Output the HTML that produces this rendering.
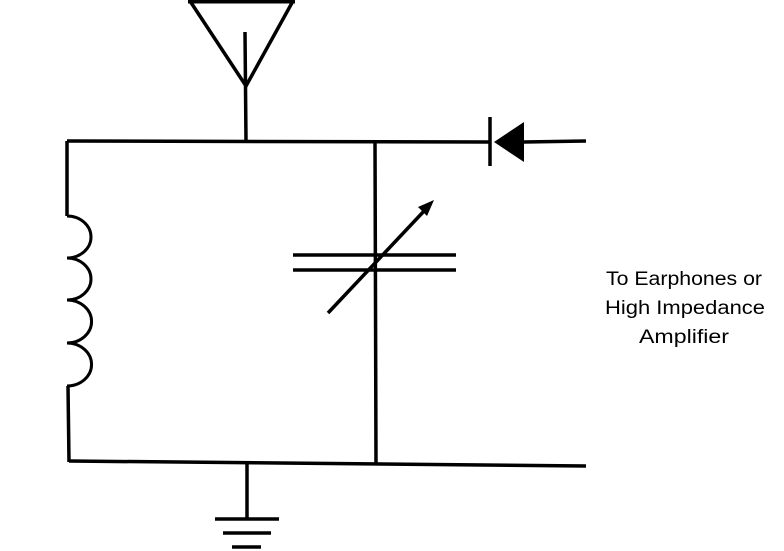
<!DOCTYPE html>
<html><head><style>
html,body{margin:0;padding:0;background:#fff;}
svg{display:block;}
text{font-family:"Liberation Sans",sans-serif;font-size:19px;fill:#000;}
</style></head><body>
<svg width="784" height="551" viewBox="0 0 784 551" xmlns="http://www.w3.org/2000/svg">
<g stroke="#000" stroke-width="3.5" fill="none" stroke-linecap="butt">
<polyline points="190,1 246,86 293,1"/>
<line x1="188" y1="1" x2="295" y2="1" stroke-width="5"/>
<line x1="245" y1="32" x2="246" y2="141"/>
<line x1="67" y1="141" x2="490" y2="142"/>
<line x1="524" y1="142" x2="586" y2="141"/>
<line x1="490" y1="117" x2="490" y2="166"/>
<line x1="375" y1="141" x2="376" y2="463"/>
<line x1="293" y1="255" x2="456" y2="255"/>
<line x1="293" y1="270" x2="456" y2="270"/>
<line x1="328" y1="313" x2="425" y2="210"/>
<line x1="67" y1="141" x2="67" y2="216"/>
<path d="M67,216 A24,21 0 0 1 67,258 A24,21 0 0 1 67,300 A24,21 0 0 1 67,343 A24,21 0 0 1 67,386" stroke-width="3"/>
<line x1="68" y1="386" x2="69" y2="462"/>
<line x1="69" y1="461" x2="586" y2="466"/>
<line x1="247" y1="463" x2="247" y2="519"/>
<line x1="215" y1="519" x2="279" y2="519"/>
<line x1="223" y1="533" x2="271" y2="533"/>
<line x1="232" y1="547" x2="261" y2="547"/>
</g>
<polygon points="494,142 524,122 524,162" fill="#000"/>
<polygon points="434,200 418,207 427,216" fill="#000"/>
<text x="606" y="285" textLength="156" lengthAdjust="spacingAndGlyphs">To Earphones or</text>
<text x="605" y="314" textLength="160" lengthAdjust="spacingAndGlyphs">High Impedance</text>
<text x="639" y="343" textLength="90" lengthAdjust="spacingAndGlyphs">Amplifier</text>
</svg>
</body></html>
